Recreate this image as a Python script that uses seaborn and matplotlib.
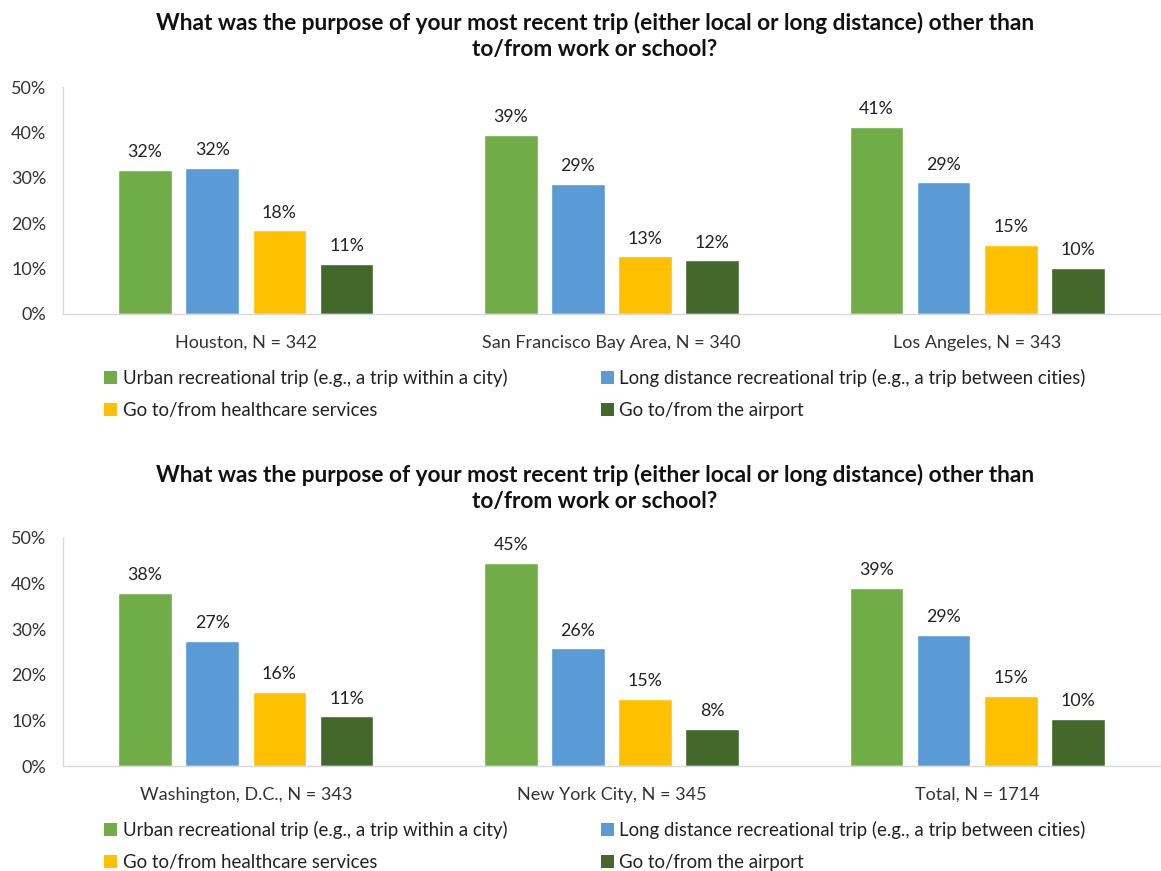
import matplotlib
matplotlib.use("Agg")
import matplotlib.pyplot as plt
import seaborn as sns
import pandas as pd
from matplotlib.patches import Patch

sns.set_style("white")
plt.rcParams['font.family'] = ['Lato', 'DejaVu Sans']

series = ["Urban recreational trip (e.g., a trip within a city)",
          "Long distance recreational trip (e.g., a trip between cities)",
          "Go to/from healthcare services",
          "Go to/from the airport"]
colors = ["#70AD47", "#5B9BD5", "#FFC000", "#43682B"]

cats_top = ["Houston, N = 342", "San Francisco Bay Area, N = 340", "Los Angeles, N = 343"]
urban_top = [31.8, 39.4, 41.2]
long_top = [32.2, 28.6, 29.0]
health_top = [18.4, 12.7, 15.3]
airport_top = [11.1, 11.8, 10.1]

cats_bot = ["Washington, D.C., N = 343", "New York City, N = 345", "Total, N = 1714"]
urban_bot = [37.9, 44.6, 39.1]
long_bot = [27.4, 25.8, 28.7]
health_bot = [16.3, 14.8, 15.4]
airport_bot = [10.9, 8.2, 10.3]

title = "What was the purpose of your most recent trip (either local or long distance) other than\nto/from work or school?"

def make_df(cats, vals):
    rows = []
    for s, v in zip(series, vals):
        for c, x in zip(cats, v):
            rows.append({"cat": c, "series": s, "value": x})
    return pd.DataFrame(rows)

fig = plt.figure(figsize=(11.61, 8.71), dpi=100)
ax1 = fig.add_axes([63/1161, 1-314/871, 1097/1161, 227/871])
ax2 = fig.add_axes([63/1161, 1-766/871, 1097/1161, 228/871])

for ax, cats, vals, ty in [(ax1, cats_top, [urban_top, long_top, health_top, airport_top], 36),
                           (ax2, cats_bot, [urban_bot, long_bot, health_bot, airport_bot], 488)]:
    df = make_df(cats, vals)
    sns.barplot(data=df, x="cat", y="value", hue="series", hue_order=series,
                palette=colors, width=0.735, gap=0.2, ax=ax, legend=False,
                saturation=1, errorbar=None)
    for cont in ax.containers:
        ax.bar_label(cont, labels=[f"{v:.0f}%" for v in cont.datavalues],
                     padding=7, fontsize=12.8, color="#222222")
    ax.set_xlim(-0.5, 2.5)
    ax.set_ylim(0, 50)
    ax.set_yticks([0, 10, 20, 30, 40, 50])
    ax.set_yticklabels([f"{t}%" for t in [0, 10, 20, 30, 40, 50]], fontsize=13, color="#333333")
    ax.tick_params(axis='x', labelsize=13, colors="#333333", length=0, pad=15)
    ax.tick_params(axis='y', length=0, pad=12)
    ax.set_xlabel("")
    ax.set_ylabel("")
    for sp in ["top", "right"]:
        ax.spines[sp].set_visible(False)
    for sp in ["left", "bottom"]:
        ax.spines[sp].set_color("#D9D9D9")
        ax.spines[sp].set_linewidth(1)
    fig.text(595/1161, 1-ty/871, title, ha="center", va="center",
             fontsize=16.3, fontweight="bold", color="#111111", linespacing=1.3)
    handles = [Patch(facecolor=c, edgecolor="none") for c in colors]
    order = [0, 2, 1, 3]
    ax.legend([handles[i] for i in order], [series[i] for i in order],
              ncol=2, loc="upper left", bbox_to_anchor=(34/1097, -0.21),
              frameon=False, fontsize=13.4, handlelength=0.7, handleheight=0.7,
              handletextpad=0.3, columnspacing=5.0, labelspacing=0.8,
              labelcolor="#222222", borderaxespad=0.0)

fig.savefig("out.png", dpi=100)
